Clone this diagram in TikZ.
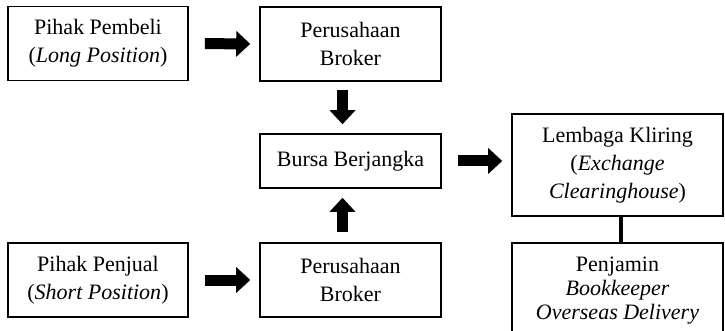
\documentclass[tikz,border=0pt]{standalone}
\usepackage{fontspec}
\setmainfont{Liberation Serif}
\usetikzlibrary{arrows.meta}
\begin{document}
\begin{tikzpicture}[x=1pt,y=-1pt,
  box/.style={draw,line width=1.6pt,rectangle,align=center,inner sep=0pt,
    font=\fontsize{22}{28}\selectfont},
  bigarrow/.style={line width=11pt,-{Triangle[width=26pt,length=14pt,line width=0pt]}},
  link/.style={line width=4pt}]
\clip (0,0) rectangle (725,331);
\node[box,minimum width=180pt,minimum height=74pt] (p1) at (98,43.5) {Pihak Pembeli\\(\textit{Long Position})};
\node[box,minimum width=181pt,minimum height=74pt] (b1) at (350.5,44) {Perusahaan\\Broker};
\node[box,minimum width=181pt,minimum height=54pt] (bu) at (350.5,161) {Bursa Berjangka};
\node[box,minimum width=211pt,minimum height=102pt] (lk) at (617.5,165) {Lembaga Kliring\\(\textit{Exchange}\\\textit{Clearinghouse})};
\node[box,minimum width=211pt,minimum height=96pt,font=\fontsize{22}{24}\selectfont] (pj) at (617.5,291) {Penjamin\\\textit{Bookkeeper}\\\textit{Overseas Delivery}};
\node[box,minimum width=180pt,minimum height=74pt] (p2) at (98,280) {Pihak Penjual\\(\textit{Short Position})};
\node[box,minimum width=181pt,minimum height=74pt] (b2) at (350.5,280) {Perusahaan\\Broker};
\draw[bigarrow,shorten <=16pt,shorten >=9pt] (p1.east) -- (b1.west);
\draw[bigarrow,shorten <=8pt,shorten >=9pt] ([xshift=-8pt]b1.south) -- ([xshift=-8pt]bu.north);
\draw[bigarrow,shorten <=10pt,shorten >=9pt] ([xshift=-8pt]b2.north) -- ([xshift=-8pt]bu.south);
\draw[bigarrow,shorten <=16pt,shorten >=9pt] (bu.east) -- (bu.east -| lk.west);
\draw[bigarrow,shorten <=16pt,shorten >=9pt] (p2.east) -- (b2.west);
\draw[link] ([xshift=3pt]lk.south) -- ([xshift=3pt]pj.north);
\end{tikzpicture}
\end{document}
